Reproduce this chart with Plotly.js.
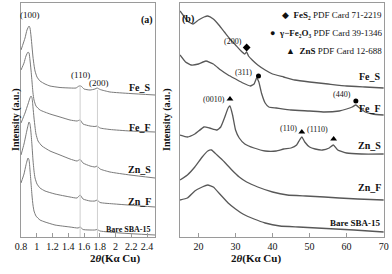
<!DOCTYPE html>
<html><head><meta charset="utf-8">
<script src="https://cdn.plot.ly/plotly-3.0.1.min.js"></script>
<style>html,body{margin:0;padding:0;background:#fff}#g{width:392px;height:274px}</style>
</head><body><div id="g"></div>
<script>
// ---- Panel (a): low-angle XRD ----
const aFeS_x=[0.80,0.851,0.876,0.902,0.914,0.927,0.94,0.952,0.965,0.978,1.003,1.041,1.105,1.168,1.295,1.422,1.498,1.536,1.561,1.60,1.676,1.739,1.765,1.803,1.929,2.183,2.5];
const aFeS_y=[187,199,207,211,209,201,190,180,172,166,160,156,153,151,149.5,149,149,151,151,148,147,148,149,147.5,145,143.5,142];
const aFeF_x=[0.80,0.838,0.863,0.889,0.902,0.914,0.927,0.94,0.952,0.965,0.99,1.041,1.168,1.295,1.422,1.511,1.55,1.587,1.676,1.739,1.765,1.803,1.929,2.183,2.5];
const aFeF_y=[167,174,181,185,184,177,167,155,144,137,131,127,123,120,117,116,117,113,111,110.5,111,109,107.5,106,105];
const aZnS_x=[0.80,0.851,0.889,0.914,0.927,0.94,0.952,0.965,0.978,0.99,1.016,1.066,1.168,1.295,1.422,1.511,1.55,1.587,1.676,1.739,1.765,1.803,1.929,2.183,2.5];
const aZnS_y=[114,124,133,139,141,139,130,119,110,103,96,91,86,82,78,76,77.5,74,71,70,71,68,65,62,59];
const aZnF_x=[0.80,0.838,0.876,0.902,0.914,0.927,0.94,0.952,0.965,0.978,1.003,1.041,1.105,1.231,1.422,1.511,1.55,1.587,1.676,1.739,1.765,1.803,1.993,2.247,2.5];
const aZnF_y=[82,93,107,115,113,104,91,77,66,59,53,49,46,43,40,39,42,38,36,36,37,34.5,33,31.5,30];
const aBare_x=[0.80,0.838,0.863,0.889,0.902,0.914,0.927,0.94,0.952,0.965,0.99,1.041,1.105,1.231,1.422,1.524,1.55,1.587,1.739,1.765,1.803,2.056,2.5];
const aBare_y=[54,63,72,79,77,67,54,41,32,26,21,17,15,12,10,9,10,7.5,7,7.5,6,4,2];
const aNames=['Fe_S','Fe_F','Zn_S','Zn_F','Bare SBA-15'];
const aLabelY=[150,110,68,36,8];
const aPeakLabels=['(100)','(110)','(200)'];
const aPeakX=[0.914,1.55,1.79];
const aPeakY=[222,162,154];
const aLineX=[1.55,1.77];
const aLineTop=[152,147];

// ---- Panel (b): wide-angle XRD ----
const bFeS_x=[15,16,17,18.5,20,21.5,22.5,24,25.5,27,28.5,30,31.5,32.5,33,33.5,34.5,36,38,40,43,46,50,55,60,65,70];
const bFeS_y=[226,221,216,213,217,220,221,218,212,205,198,192,186,183,185,181,177,172,167,163,160,157,155,153,151,150,149];
const bFeF_x=[15,16.5,18,20,22,24,26,28,30,32,34,35,35.7,36.3,37,38,39,41,45,50,54,58,60,61.5,62.5,63.5,65,67,70];
const bFeF_y=[182,175,172,173,176,173,167,162,158,154,151,153,159,155,144,134,130,129,127,126,125,126,128,130,132,129,125,123,122];
const bZnS_x=[15,17,19,21.5,23,25,26,27,28,28.5,29.2,30,31,32.5,35,38,41,43,45,46.5,47.3,47.9,48.7,50,51.5,53.5,55.3,56.4,57.6,60,64,70];
const bZnS_y=[102,100,103,110,109,107,110,119,129,131,122,107,99,93,89,86,86,88,89,92,97,100,95,90,88,87,89,92,87,84,83,83];
const bZnF_x=[15,17,19,21,22.5,23.5,25,27,29,31,33,36,40,44,49,54,58,63,70];
const bZnF_y=[57,62,70,80,86,87,82,75,67,60,55,50,45,42,41,40,39,38,37];
const bBare_x=[15,17,19,21,22.5,24,26,28,30,32,35,38,42,47,52,57,62,66,70];
const bBare_y=[37,39,46,50,52,50,42,34,28,23,18,14,11,10,9,8,7,6,5];
const bNames=['Fe_S','Fe_F','Zn_S','Zn_F','Bare SBA-15'];
const bLabelY=[161,129,92,50,14];
// reference-card markers
const mFeS2_x=[33], mFeS2_y=[189.5], mFeS2_t=['(200)'];
const mFe2O3_x=[36.2,62.5], mFe2O3_y=[161,136], mFe2O3_t=['(311)','(440)'];
const mZnS_x=[28.5,47.9,56.5], mZnS_y=[138,105,98], mZnS_t=['(0010)','(110)','(1110)'];
const hklTextX=[32.4,35.0,61.6,27.6,47.2,55.6];
const hklTextY=[196,165,143,138,109,108];
const legendLines=['◆  <b>FeS₂</b> PDF Card 71-2219','●  <b>γ−Fe₂O₃</b> PDF Card 39-1346','▲  <b>ZnS</b> PDF Card 12-688'];

const F='Liberation Serif, Times New Roman, serif';
const W=392,H=274;
const px=x=>x/W, py=y=>(H-y)/H;

const traces=[];
const aX=[aFeS_x,aFeF_x,aZnS_x,aZnF_x,aBare_x], aY=[aFeS_y,aFeF_y,aZnS_y,aZnF_y,aBare_y];
aX.forEach((x,i)=>traces.push({x:x,y:aY[i],type:'scatter',mode:'lines',xaxis:'x',yaxis:'y',line:{color:'#7a7a7a',width:1,shape:'spline',smoothing:0.5},hoverinfo:'skip',showlegend:false}));
const bX=[bFeS_x,bFeF_x,bZnS_x,bZnF_x,bBare_x], bY=[bFeS_y,bFeF_y,bZnS_y,bZnF_y,bBare_y];
bX.forEach((x,i)=>traces.push({x:x,y:bY[i],type:'scatter',mode:'lines',xaxis:'x2',yaxis:'y2',line:{color:'#585858',width:1.3,shape:'spline',smoothing:0.4},hoverinfo:'skip',showlegend:false}));
traces.push({x:mFeS2_x,y:mFeS2_y,type:'scatter',mode:'markers',xaxis:'x2',yaxis:'y2',marker:{symbol:'diamond',size:6,color:'#000'},showlegend:false});
traces.push({x:mFe2O3_x,y:mFe2O3_y,type:'scatter',mode:'markers',xaxis:'x2',yaxis:'y2',marker:{symbol:'circle',size:5,color:'#000'},showlegend:false});
traces.push({x:mZnS_x,y:mZnS_y,type:'scatter',mode:'markers',xaxis:'x2',yaxis:'y2',marker:{symbol:'triangle-up',size:6,color:'#000'},showlegend:false});

const ann=[];
aNames.forEach((n,i)=>ann.push({x:2.47,y:aLabelY[i],xref:'x',yref:'y',text:'<b>'+n+'</b>',showarrow:false,xanchor:'right',yanchor:'middle',font:{family:F,size:i===4?8:10,color:'#111'}}));
bNames.forEach((n,i)=>ann.push({x:69.8,y:bLabelY[i],xref:'x2',yref:'y2',text:'<b>'+n+'</b>',showarrow:false,xanchor:'right',yanchor:'middle',font:{family:F,size:i===4?9:10,color:'#111'}}));
aPeakLabels.forEach((t,i)=>ann.push({x:aPeakX[i],y:aPeakY[i],xref:'x',yref:'y',text:t,showarrow:false,font:{family:F,size:9,color:'#111'}}));
const hklT=mFeS2_t.concat(mFe2O3_t,mZnS_t);
hklT.forEach((t,i)=>ann.push({x:hklTextX[i],y:hklTextY[i],xref:'x2',yref:'y2',text:t,showarrow:false,xanchor:'right',font:{family:F,size:8,color:'#111'}}));
legendLines.forEach((t,i)=>ann.push({x:px(384),y:py(15+18*i),xref:'paper',yref:'paper',text:t,showarrow:false,xanchor:'right',yanchor:'middle',font:{family:F,size:9,color:'#111'}}));
ann.push({x:px(147),y:py(12),xref:'paper',yref:'paper',text:'<b>(a)</b>',showarrow:false,font:{family:F,size:10,color:'#111'}});
ann.push({x:px(188),y:py(11),xref:'paper',yref:'paper',text:'<b>(b)</b>',showarrow:false,font:{family:F,size:10,color:'#111'}});
[88,283].forEach(c=>ann.push({x:px(c),y:py(267),xref:'paper',yref:'paper',text:'<b>2<i>θ</i>(Kα Cu)</b>',showarrow:false,font:{family:F,size:11,color:'#111'}}));
[8,167].forEach(c=>ann.push({x:px(c),y:py(120),xref:'paper',yref:'paper',text:'<b>Intensity (a.u.)</b>',textangle:-90,showarrow:false,font:{family:F,size:10,color:'#111'}}));

const shapes=aLineX.map((x,i)=>({type:'line',xref:'x',yref:'y',x0:x,x1:x,y0:0,y1:aLineTop[i],line:{color:'#cfcfcf',width:1}}));

const yd=[py(237),py(3)];
const ax={showline:true,mirror:true,linecolor:'#9a9a9a',linewidth:1,showgrid:false,zeroline:false,ticks:'inside',ticklen:4,tickcolor:'#9a9a9a',tickfont:{family:F,size:10,color:'#111'},fixedrange:true};
const ay={showline:true,mirror:true,linecolor:'#9a9a9a',linewidth:1,showgrid:false,zeroline:false,showticklabels:false,ticks:'',range:[0,234],domain:yd};
const layout={width:W,height:H,margin:{l:0,r:0,t:0,b:0},paper_bgcolor:'#fff',plot_bgcolor:'#fff',
 xaxis:Object.assign({},ax,{domain:[px(21),px(155)],range:[0.8,2.5],tick0:0.8,dtick:0.2,anchor:'y'}),
 yaxis:Object.assign({},ay,{anchor:'x'}),
 xaxis2:Object.assign({},ax,{domain:[px(180),px(384)],range:[15,70.1],tick0:0,dtick:10,anchor:'y2'}),
 yaxis2:Object.assign({},ay,{anchor:'x2'}),
 annotations:ann,shapes:shapes,showlegend:false};
Plotly.newPlot('g',traces,layout,{staticPlot:true,displayModeBar:false});
</script></body></html>
